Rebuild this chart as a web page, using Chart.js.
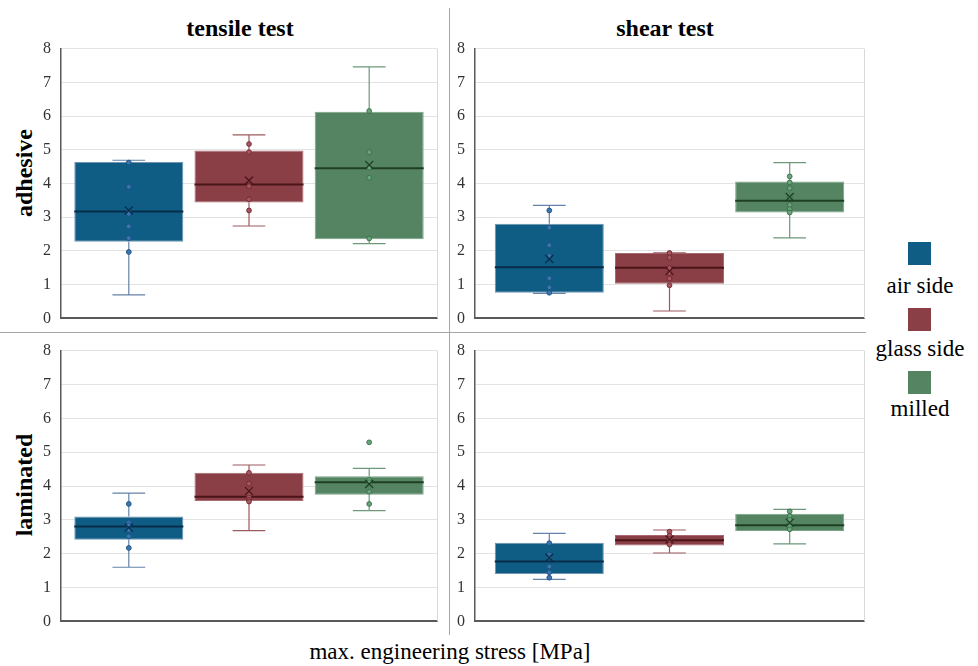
<!DOCTYPE html>
<html>
<head>
<meta charset="utf-8">
<script src="https://cdn.jsdelivr.net/npm/chart.js@4.4.1/dist/chart.umd.min.js"></script>
<style>
    body { margin: 0; background: #fff; font-family: 'Liberation Serif', 'Times New Roman', serif; color: #000; }
    #page { position: relative; width: 978px; height: 666px; overflow: hidden; }
    canvas { position: absolute; }
    .lbl { position: absolute; transform: translate(-50%, -50%); white-space: nowrap; }
    .title { font-weight: bold; font-size: 24px; }
    .row { font-weight: bold; font-size: 24px; transform: translate(-50%, -50%) rotate(-90deg); }
    .leg { font-size: 23px; }
    .sq { position: absolute; width: 23px; height: 23px; }
    .divider { position: absolute; background: #a6a6a6; }
</style>
</head>
<body>
<div id="page">
    <div class="divider" style="left:449px; top:8px; width:1px; height:627px;"></div>
    <div class="divider" style="left:0; top:332px; width:866px; height:1px;"></div>

    <div class="lbl title" style="left:240px; top:28px;">tensile test</div>
    <div class="lbl title" style="left:665px; top:28px;">shear test</div>
    <div class="lbl row" style="left:24px; top:173px;">adhesive</div>
    <div class="lbl row" style="left:24px; top:485px;">laminated</div>
    <div class="lbl leg" style="left:450px; top:652px;">max. engineering stress [MPa]</div>

    <div class="sq" style="left:908px; top:242px; background:#0f5d85;"></div>
    <div class="lbl leg" style="left:920px; top:286px;">air side</div>
    <div class="sq" style="left:908px; top:308px; background:#8a3e46;"></div>
    <div class="lbl leg" style="left:920px; top:349px;">glass side</div>
    <div class="sq" style="left:908px; top:371px; background:#548462;"></div>
    <div class="lbl leg" style="left:920px; top:409px;">milled</div>

    <canvas id="tensileAdhesive" width="420" height="309" style="left:20px; top:29px;"></canvas>
    <canvas id="shearAdhesive" width="427" height="309" style="left:440px; top:29px;"></canvas>
    <canvas id="tensileLaminated" width="420" height="310" style="left:20px; top:331px;"></canvas>
    <canvas id="shearLaminated" width="427" height="310" style="left:440px; top:331px;"></canvas>
</div>
<script>
const categories = ['air side', 'glass side', 'milled'];
const yTicks = [0, 1, 2, 3, 4, 5, 6, 7, 8];

// each box: [lower whisker, q1, median, q3, upper whisker]
const tensileAdhesiveBoxes = [[0.70, 2.27, 3.17, 4.64, 4.69], [2.74, 3.44, 3.97, 4.98, 5.44], [2.22, 2.35, 4.45, 6.13, 7.46]];
const tensileAdhesiveMeans = [3.20, 4.09, 4.55];
const tensileAdhesivePoints = [[4.62, 3.90, 3.15, 3.10, 2.73, 2.38, 1.97], [5.17, 4.93, 3.92, 3.53, 3.20], [6.15, 4.93, 4.47, 4.17, 2.37]];

const shearAdhesiveBoxes = [[0.74, 0.76, 1.52, 2.81, 3.35], [0.22, 1.03, 1.50, 1.94, 1.94], [2.39, 3.14, 3.49, 4.06, 4.62]];
const shearAdhesiveMeans = [1.76, 1.40, 3.60];
const shearAdhesivePoints = [[3.20, 2.69, 2.17, 1.85, 1.19, 0.92, 0.76], [1.94, 1.80, 1.49, 1.35, 1.18, 0.98], [4.21, 4.03, 3.86, 3.60, 3.36, 3.24, 3.14]];

const tensileLaminatedBoxes = [[1.60, 2.41, 2.80, 3.10, 3.79], [2.68, 3.56, 3.68, 4.39, 4.62], [3.27, 3.74, 4.11, 4.29, 4.52]];
const tensileLaminatedMeans = [2.77, 3.85, 4.06];
const tensileLaminatedPoints = [[3.47, 2.92, 2.84, 2.70, 2.51, 2.17], [4.39, 4.07, 3.73, 3.66, 3.59, 3.54], [5.29, 4.18, 4.11, 3.83, 3.47]];

const shearLaminatedBoxes = [[1.24, 1.40, 1.77, 2.32, 2.60], [2.02, 2.24, 2.40, 2.55, 2.70], [2.29, 2.67, 2.84, 3.18, 3.31]];
const shearLaminatedMeans = [1.88, 2.42, 2.92];
const shearLaminatedPoints = [[2.31, 1.97, 1.89, 1.62, 1.45, 1.29], [2.65, 2.53, 2.44, 2.36, 2.27], [3.25, 3.11, 3.00, 2.88, 2.80, 2.72]];

const fills = ['#0f5d85', '#8a3e46', '#548462'];
const edges = ['#6f93b0', '#a86a70', '#7aa487'];
const medianColors = ['#062c48', '#4a1519', '#1e3f24'];
const whiskerColors = ['#6483a8', '#9c5a60', '#6d9879'];
const pointFills = ['#3a76b0', '#a85560', '#68a57a'];
const pointEdges = ['#1d4f80', '#6e2a31', '#3b6b48'];

Chart.defaults.font.family = 'Liberation Serif, Times New Roman, serif';

function makePanel(id, boxes, means, points, yWidth, catPct) {
    // whiskers, medians, points and means on top of the floating bars
    const extras = {
        id: 'boxExtras',
        beforeDatasetsDraw(chart) {
            const { ctx, chartArea: a } = chart;
            ctx.save();
            ctx.strokeStyle = '#d9d9d9';
            ctx.lineWidth = 1;
            ctx.beginPath();
            ctx.moveTo(a.right + 0.5, a.top);
            ctx.lineTo(a.right + 0.5, a.bottom);
            ctx.stroke();
            ctx.restore();
        },
        afterDatasetsDraw(chart) {
            const ctx = chart.ctx;
            const y = chart.scales.y;
            ctx.save();
            boxes.forEach((s, i) => {
                const bar = chart.getDatasetMeta(i).data[0];
                const cx = bar.x;
                const half = bar.width / 2;
                const cap = bar.width * 0.15;

                ctx.strokeStyle = whiskerColors[i];
                ctx.lineWidth = 1.2;
                ctx.beginPath();
                ctx.moveTo(cx, y.getPixelForValue(s[0]));
                ctx.lineTo(cx, y.getPixelForValue(s[1]));
                ctx.moveTo(cx, y.getPixelForValue(s[3]));
                ctx.lineTo(cx, y.getPixelForValue(s[4]));
                ctx.moveTo(cx - cap, y.getPixelForValue(s[0]));
                ctx.lineTo(cx + cap, y.getPixelForValue(s[0]));
                ctx.moveTo(cx - cap, y.getPixelForValue(s[4]));
                ctx.lineTo(cx + cap, y.getPixelForValue(s[4]));
                ctx.stroke();

                ctx.strokeStyle = medianColors[i];
                ctx.lineWidth = 2;
                ctx.beginPath();
                ctx.moveTo(cx - half, y.getPixelForValue(s[2]));
                ctx.lineTo(cx + half, y.getPixelForValue(s[2]));
                ctx.stroke();

                points[i].forEach(v => {
                    ctx.beginPath();
                    ctx.arc(cx, y.getPixelForValue(v), 2.4, 0, Math.PI * 2);
                    ctx.fillStyle = pointFills[i];
                    ctx.fill();
                    ctx.strokeStyle = pointEdges[i];
                    ctx.lineWidth = 0.9;
                    ctx.stroke();
                });

                const my = y.getPixelForValue(means[i]);
                ctx.strokeStyle = medianColors[i];
                ctx.lineWidth = 1.2;
                ctx.beginPath();
                ctx.moveTo(cx - 4, my - 4);
                ctx.lineTo(cx + 4, my + 4);
                ctx.moveTo(cx + 4, my - 4);
                ctx.lineTo(cx - 4, my + 4);
                ctx.stroke();
            });
            ctx.restore();
        }
    };

    return new Chart(document.getElementById(id), {
        type: 'bar',
        data: {
            labels: [''],
            datasets: categories.map((c, i) => ({
                label: c,
                data: [[boxes[i][1], boxes[i][3]]],
                backgroundColor: fills[i],
                borderColor: edges[i],
                borderWidth: 1,
                borderSkipped: false,
                categoryPercentage: catPct,
                barPercentage: 0.907
            }))
        },
        options: {
            responsive: false,
            animation: false,
            devicePixelRatio: 1,
            layout: { padding: { top: 12, bottom: 12, left: 0, right: 3 } },
            plugins: { legend: { display: false }, tooltip: { enabled: false } },
            scales: {
                x: {
                    grid: { display: false, drawTicks: false },
                    ticks: { display: false },
                    border: { color: '#595959', width: 2 }
                },
                y: {
                    min: yTicks[0],
                    max: yTicks[yTicks.length - 1],
                    afterBuildTicks: scale => { scale.ticks = yTicks.map(v => ({ value: v })); },
                    afterFit: scale => { scale.width = yWidth; },
                    ticks: {
                        padding: 10,
                        color: '#333',
                        font: { family: 'Liberation Serif, Times New Roman, serif', size: 16 }
                    },
                    grid: { color: '#e3e3e3', drawTicks: false },
                    border: { color: '#595959', width: 1.5 }
                }
            }
        },
        plugins: [extras]
    });
}

function drawAll() {
    makePanel('tensileAdhesive', tensileAdhesiveBoxes, tensileAdhesiveMeans, tensileAdhesivePoints, 41, 0.959);
    makePanel('shearAdhesive', shearAdhesiveBoxes, shearAdhesiveMeans, shearAdhesivePoints, 35, 0.927);
    makePanel('tensileLaminated', tensileLaminatedBoxes, tensileLaminatedMeans, tensileLaminatedPoints, 41, 0.959);
    makePanel('shearLaminated', shearLaminatedBoxes, shearLaminatedMeans, shearLaminatedPoints, 35, 0.927);
}

// make sure the serif face is ready before the canvases draw their tick labels
document.fonts.load("16px 'Liberation Serif'").then(drawAll, drawAll);
</script>
</body>
</html>
